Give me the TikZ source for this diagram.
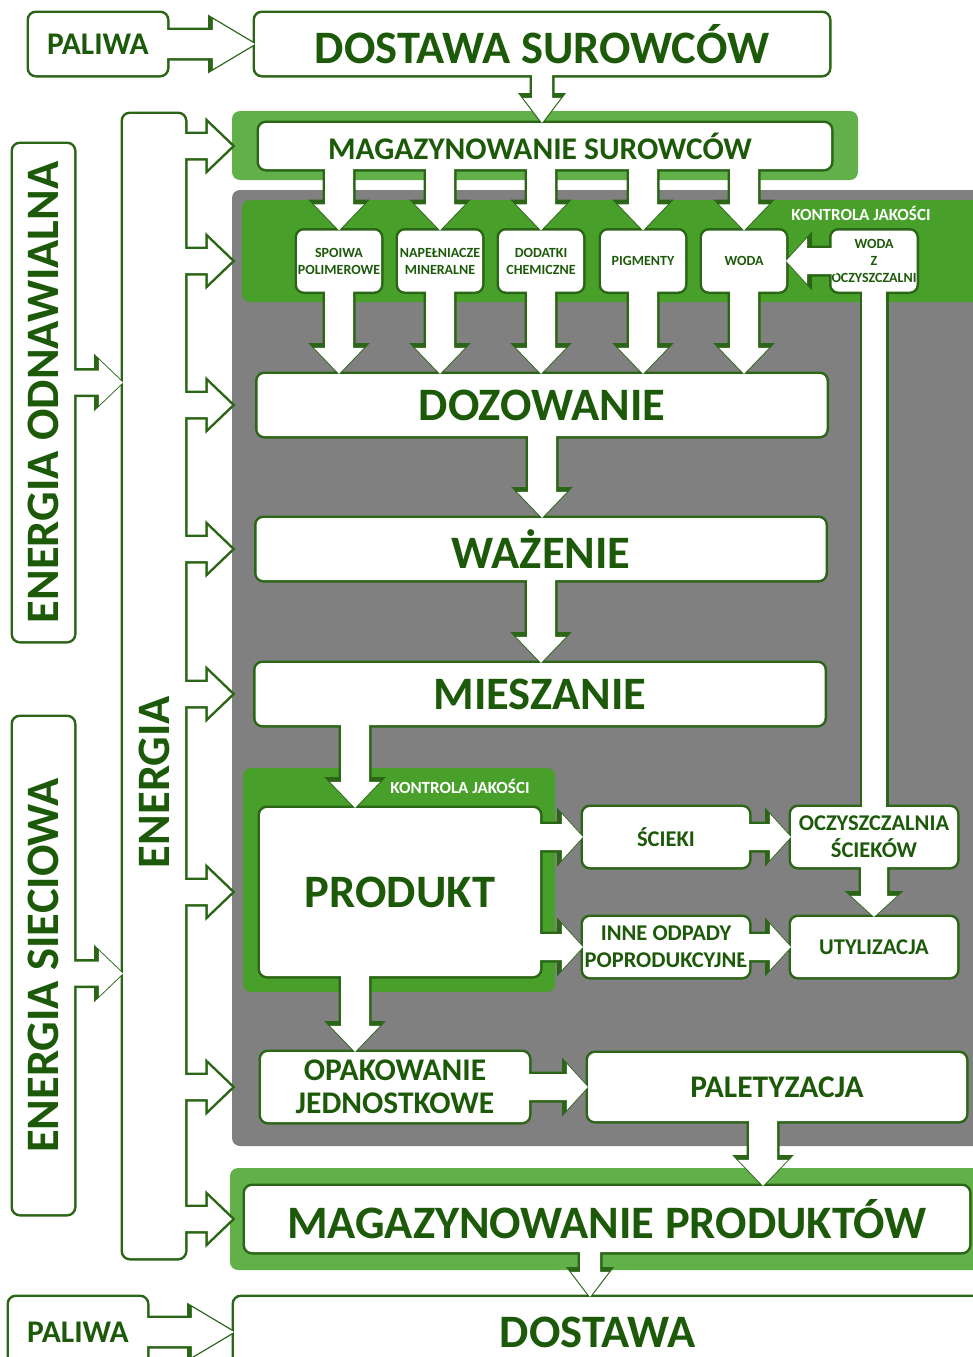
\documentclass[tikz,border=0pt]{standalone}
\usepackage{fontspec}
\setmainfont{Carlito}
\usepackage{graphicx}
\usepackage{tikz}
\usetikzlibrary{calc,positioning}

\definecolor{lgreen}{RGB}{98,176,74}
\definecolor{dgreen}{RGB}{72,160,42}
\definecolor{lineg}{RGB}{42,102,22}
\definecolor{inkg}{RGB}{28,90,10}
\definecolor{panelg}{RGB}{128,128,128}

\tikzset{
  arr/.style n args={3}{to path={let \p1=(\tikztostart), \p2=(\tikztotarget),
      \n1={atan2((\y2)-(\y1),(\x2)-(\x1))}, \n2={veclen((\x2)-(\x1),(\y2)-(\y1))} in
      ([shift={(\p1)},rotate=\n1]-5pt,#1) -- ([shift={(\p1)},rotate=\n1]\n2-#3,#1)
      -- ([shift={(\p1)},rotate=\n1]\n2-#3,#2) -- ([shift={(\p1)},rotate=\n1]\n2,0pt)
      -- ([shift={(\p1)},rotate=\n1]\n2-#3,-#2) -- ([shift={(\p1)},rotate=\n1]\n2-#3,-#1)
      -- ([shift={(\p1)},rotate=\n1]-5pt,-#1) -- cycle}},
  pipe/.style={to path={let \p1=(\tikztostart), \p2=(\tikztotarget),
      \n1={atan2((\y2)-(\y1),(\x2)-(\x1))}, \n2={veclen((\x2)-(\x1),(\y2)-(\y1))} in
      ([shift={(\p1)},rotate=\n1]-5pt,#1) -- ([shift={(\p1)},rotate=\n1]\n2+5pt,#1)
      -- ([shift={(\p1)},rotate=\n1]\n2+5pt,-#1) -- ([shift={(\p1)},rotate=\n1]-5pt,-#1) -- cycle}},
  fatarr/.style={arr={14pt}{25pt}{42pt}},
  finger/.style={arr={12pt}{23pt}{24pt}},
  downarr/.style={arr={14pt}{25pt}{26pt}},
  smallarr/.style={arr={10pt}{19pt}{25pt}},
  sidearr/.style={arr={13pt}{23pt}{21pt}},
  box/.style={wb, rounded corners=7pt, inner sep=0pt, align=center, text=inkg},
  bgbox/.style={rounded corners=8pt, inner sep=0pt},
  kj/.style={text=white, font=\fontsize{17}{17}\selectfont\bfseries},
  f46/.style={font=\fontsize{46.5}{50}\selectfont\bfseries},
  f31/.style={font=\fontsize{31.5}{33}\selectfont\bfseries},
  f22/.style={font=\fontsize{22.5}{27}\selectfont\bfseries},
  f14/.style={font=\fontsize{14}{17}\selectfont\bfseries},
}

% white boxes and block arrows, drawn twice (outline, then fill)
\newcommand\whites{%
  \node[box, f31, minimum width=138pt, minimum height=62pt]  (pal1)  at (98,44)      {PALIWA};
  \node[box, f46, minimum width=574pt, minimum height=62pt]  (dsur)  at (542,44)     {DOSTAWA SUROWCÓW};
  \node[box, f31, minimum width=572pt, minimum height=46pt]  (msur)  at (545,146)    {MAGAZYNOWANIE SUROWCÓW\hspace{10pt}};
  \node[box, f14, minimum width=84pt,  minimum height=61pt]  (sp)    at (339,261)    {SPOIWA\\POLIMEROWE};
  \node[box, f14, minimum width=84pt,  minimum height=61pt]  (na)    at (440,261)    {NAPEŁNIACZE\\MINERALNE};
  \node[box, f14, minimum width=84pt,  minimum height=61pt]  (dd)    at (541,261)    {DODATKI\\CHEMICZNE};
  \node[box, f14, minimum width=84pt,  minimum height=61pt]  (pg)    at (643,261)    {PIGMENTY};
  \node[box, f14, minimum width=84pt,  minimum height=61pt]  (wo)    at (744,261)    {WODA};
  \node[box, f14, minimum width=84pt,  minimum height=61pt]  (woz)   at (874,261)    {WODA\\Z\\OCZYSZCZALNI};
  \node[box, f46, minimum width=569pt, minimum height=62pt]  (doz)   at (542,405)    {DOZOWANIE};
  \node[box, f46, minimum width=569pt, minimum height=62pt]  (waz)   at (541,549)    {WAŻENIE};
  \node[box, f46, minimum width=569pt, minimum height=62pt]  (mie)   at (540,694)    {MIESZANIE};
  \node[box, f46, minimum width=280pt, minimum height=168pt] (prod)  at (400,892)    {PRODUKT};
  \node[box, f22, minimum width=166pt, minimum height=60pt]  (sci)   at (666,837)    {ŚCIEKI};
  \node[box, f22, minimum width=166pt, minimum height=60pt]  (ocz)   at (874,837)    {OCZYSZCZALNIA\\ŚCIEKÓW};
  \node[box, f22, minimum width=166pt, minimum height=60pt]  (inne)  at (666,947)    {INNE ODPADY\\POPRODUKCYJNE};
  \node[box, f22, minimum width=166pt, minimum height=60pt]  (uty)   at (874,947)    {UTYLIZACJA};
  \node[box, f31, minimum width=268pt, minimum height=70pt]  (opak)  at (395,1087)   {OPAKOWANIE\\JEDNOSTKOWE};
  \node[box, f31, minimum width=378pt, minimum height=68pt]  (pal)   at (777,1087)   {PALETYZACJA};
  \node[box, f46, minimum width=724pt, minimum height=66pt]  (mprod) at (607,1219)   {MAGAZYNOWANIE PRODUKTÓW};
  \node[box, minimum width=776pt, minimum height=70pt,
        label={[f46, text=inkg, xshift=-24pt]center:DOSTAWA}] (dos) at (622,1332) {};
  \node[box, f31, minimum width=138pt, minimum height=70pt]  (pal2)  at (78,1332)    {PALIWA};
  \node[box, f46, minimum width=61pt,  minimum height=497pt] (eodn)  at (43.5,392.5) {\rotatebox{90}{ENERGIA ODNAWIALNA}};
  \node[box, f46, minimum width=61pt,  minimum height=497pt] (esie)  at (43.5,965.5) {\rotatebox{90}{ENERGIA SIECIOWA}};
  \node[box, minimum width=62pt, minimum height=1144pt,
        label={[f46, text=inkg, yshift=-96pt]center:\rotatebox{90}{ENERGIA}}] (ener) at (154,686) {};

  \path[wb] (pal1.east) to[fatarr] (dsur.west);
  \path[wb] (dsur.south) to[smallarr] (dsur.south |- msur.north);
  \foreach \b in {sp,na,dd,pg,wo}{
    \path[wb] (\b.north |- msur.south) to[downarr] (\b.north);
    \path[wb] (\b.south) to[downarr] (\b.south |- doz.north);
  }
  \path[wb] (woz.west) to[sidearr] (wo.east);
  \path[wb] (ocz.north) to[pipe=12pt] (ocz.north |- woz.south);
  \path[wb] (doz.south) to[downarr] (doz.south |- waz.north);
  \path[wb] (waz.south) to[downarr] (waz.south |- mie.north);
  \path[wb] ($(prod.north |- mie.south)+(-45pt,0pt)$) to[downarr] ($(prod.north)+(-45pt,0pt)$);
  \path[wb] (prod.east |- sci.west) to[sidearr] (sci.west);
  \path[wb] (prod.east |- inne.west) to[sidearr] (inne.west);
  \path[wb] (sci.east) to[sidearr] (ocz.west);
  \path[wb] (inne.east) to[sidearr] (uty.west);
  \path[wb] (ocz.south) to[sidearr] (uty.north);
  \path[wb] ($(prod.south)+(-45pt,0pt)$) to[downarr] ($(prod.south |- opak.north)+(-45pt,0pt)$);
  \path[wb] (opak.east) to[sidearr] (pal.west);
  \path[wb] ($(pal.south)+(-14pt,0pt)$) to[downarr] ($(pal.south |- mprod.north)+(-14pt,0pt)$);
  \path[wb] ($(mprod.south)+(-17pt,0pt)$) to[smallarr] ($(mprod.south |- dos.north)+(-17pt,0pt)$);
  \path[wb] (pal2.east) to[fatarr] (pal2.east -| dos.west);
  \path[wb] ($(eodn.east)+(0pt,10pt)$) to[finger] ($(eodn.east -| ener.west)+(0pt,10pt)$);
  \path[wb] ($(esie.east)+(0pt,-8pt)$) to[finger] ($(esie.east -| ener.west)+(0pt,-8pt)$);
  \foreach \t in {msur,sp,doz,waz,mie,prod,opak,mprod}
    \path[wb] (ener.east |- \t) to[finger] (panel.west |- \t);
}

\begin{document}
\begin{tikzpicture}[x=1pt, y=-1pt]
  \useasboundingbox (0,0) rectangle (972,1357);

  \node[bgbox, fill=panelg, minimum width=768pt, minimum height=956pt] (panel) at (616,668)   {};
  \node[bgbox, fill=lgreen, minimum width=626pt, minimum height=69pt]  (band1) at (545,145.5) {};
  \node[bgbox, fill=dgreen, minimum width=758pt, minimum height=102pt] (band2) at (621,251)   {};
  \node[bgbox, fill=dgreen, minimum width=312pt, minimum height=224pt] (band3) at (399,880)   {};
  \node[bgbox, fill=lgreen, minimum width=770pt, minimum height=102pt] (band4) at (615,1219)  {};
  \node[kj] (kj1) at (861,213) {KONTROLA JAKOŚCI};
  \node[kj] (kj2) at (460,786) {KONTROLA JAKOŚCI};

  \begin{scope}[wb/.style={draw=lineg, line width=5pt}]
    \whites
  \end{scope}
  \begin{scope}[wb/.style={fill=white}]
    \whites
  \end{scope}
\end{tikzpicture}
\end{document}
